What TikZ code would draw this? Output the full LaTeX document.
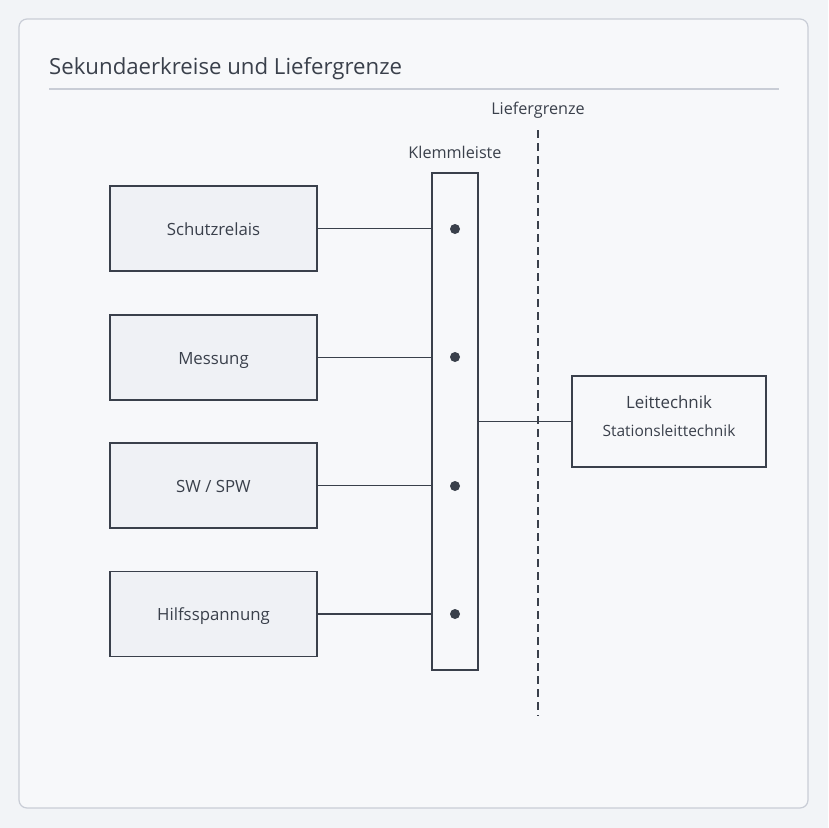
\documentclass[tikz,border=0pt]{standalone}
\usepackage{fontspec}
\setmainfont{Open Sans}
\definecolor{pagebg}{HTML}{F2F4F7}
\definecolor{cardbg}{HTML}{F7F8FA}
\definecolor{cardline}{HTML}{C9CDD6}
\definecolor{boxfill}{HTML}{EFF1F5}
\definecolor{ink}{HTML}{3A404B}
\definecolor{txt}{HTML}{3A404B}
\tikzset{
  unitbox/.style={draw=ink, line width=1.4pt, fill=boxfill, minimum width=207pt, minimum height=85pt, inner sep=0pt, text height=13pt, text depth=0pt, font=\fontsize{16.8}{19}\selectfont, text=txt},
  wire/.style={draw=ink, line width=1.3pt},
  terminal/.style={circle, fill=ink, minimum size=10pt, inner sep=0pt},
  lbl/.style={font=\fontsize{16.2}{19}\selectfont, text=txt, inner sep=0pt}
}
\begin{document}
\begin{tikzpicture}[x=1pt,y=-1pt]
\useasboundingbox (0,0) rectangle (828,828);
\fill[pagebg] (0,0) rectangle (828,828);
\draw[cardline, fill=cardbg, line width=1.2pt, rounded corners=8pt] (19,19) rectangle (808,808);
\node[anchor=base west, font=\fontsize{22.2}{26}\selectfont, text=txt, inner sep=0pt] (title) at (49,74) {Sekundaerkreise und Liefergrenze};
\draw[cardline, line width=1.2pt] (49,89) -- (779,89);

\node[unitbox] (s1) at (213.5,228.5) {Schutzrelais};
\node[unitbox] (s2) at (213.5,357.5) {Messung};
\node[unitbox] (s3) at (213.5,485.5) {SW / SPW};
\node[unitbox] (s4) at (213.5,614) {Hilfsspannung};

\node[draw=ink, line width=1.4pt, fill=cardbg, minimum width=46pt, minimum height=497pt, inner sep=0pt] (kl) at (455,421.5) {};
\node[lbl, anchor=base] (kllbl) at (455,158) {Klemmleiste};

\node[terminal] (t1) at (455,229) {};
\node[terminal] (t2) at (455,357) {};
\node[terminal] (t3) at (455,486) {};
\node[terminal] (t4) at (455,614) {};

\draw[wire] (s1.east) -- (s1.east -| kl.west);
\draw[wire] (s2.east) -- (s2.east -| kl.west);
\draw[wire] (s3.east) -- (s3.east -| kl.west);
\draw[wire] (s4.east) -- (s4.east -| kl.west);

\coordinate (gtop) at (538,130);
\coordinate (gbot) at (538,716);
\draw[ink, line width=1.4pt, dash pattern=on 8pt off 5pt] (gtop) -- (gbot);
\node[lbl, anchor=base] (glbl) at (538,114) {Liefergrenze};

\node[draw=ink, line width=1.4pt, fill=cardbg, minimum width=194pt, minimum height=91pt, inner sep=0pt] (lt) at (669,421.5) {};
\node[font=\fontsize{16.9}{20}\selectfont, text=txt, anchor=base, inner sep=0pt] (lt1) at (669,408) {Leittechnik};
\node[font=\fontsize{15.5}{18}\selectfont, text=txt, anchor=base, inner sep=0pt] (lt2) at (669,436) {Stationsleittechnik};

\draw[wire] (kl.east |- lt.west) -- (lt.west);
\end{tikzpicture}
\end{document}
